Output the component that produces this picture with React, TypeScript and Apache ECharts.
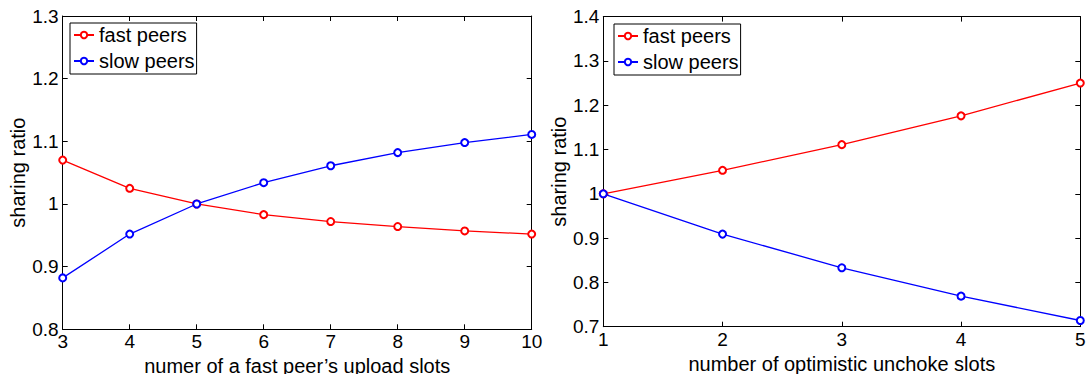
import React, { useEffect, useRef } from "react";
import * as echarts from "echarts";

const leftX = [3, 4, 5, 6, 7, 8, 9, 10];
const leftFast = [1.07, 1.025, 1.0, 0.983, 0.972, 0.964, 0.957, 0.952];
const leftSlow = [0.882, 0.952, 1.0, 1.034, 1.061, 1.082, 1.098, 1.111];

const rightX = [1, 2, 3, 4, 5];
const rightFast = [1.0, 1.053, 1.111, 1.176, 1.25];
const rightSlow = [1.0, 0.909, 0.833, 0.769, 0.714];

const seriesNames = ["fast peers", "slow peers"];
const leftXTitle = "numer of a fast peer\u2019s upload slots";
const rightXTitle = "number of optimistic unchoke slots";
const yTitle = "sharing ratio";

const FONT = "'Liberation Sans', Arial, Helvetica, sans-serif";

export default function App() {
  const ref = useRef<HTMLDivElement>(null);

  useEffect(() => {
    if (!ref.current) return;
    const chart = echarts.init(ref.current, undefined, { renderer: "svg" });

    const axisLine = { show: true, onZero: false, lineStyle: { color: "#000", width: 1 } };
    const tick = { show: true, inside: true, length: 5, lineStyle: { color: "#000", width: 1 } };
    const lbl = { color: "#000", fontSize: 19, fontFamily: FONT, margin: 3 };
    const nameStyle = { color: "#000", fontSize: 20, fontFamily: FONT };

    const mkX = (grid: number, min: number, max: number, name: string) => [
      {
        type: "value", gridIndex: grid, min, max, interval: 1, position: "bottom",
        axisLine, axisTick: tick, axisLabel: lbl, splitLine: { show: false },
        name, nameLocation: "middle", nameGap: 22,
        nameTextStyle: { ...nameStyle, lineHeight: 14 },
      },
      {
        type: "value", gridIndex: grid, min, max, interval: 1, position: "top",
        axisLine, axisTick: tick, axisLabel: { show: false }, splitLine: { show: false },
      },
    ];
    const mkY = (grid: number, min: number, max: number) => [
      {
        type: "value", gridIndex: grid, min, max, interval: 0.1, position: "left",
        axisLine, axisTick: tick, axisLabel: { ...lbl, margin: 4 }, splitLine: { show: false },
        name: yTitle, nameLocation: "middle", nameGap: 31, nameTextStyle: nameStyle,
      },
      {
        type: "value", gridIndex: grid, min, max, interval: 0.1, position: "right",
        axisLine, axisTick: tick, axisLabel: { show: false }, splitLine: { show: false },
      },
    ];

    const mkSeries = (name: string, xs: number[], ys: number[], color: string, xi: number, yi: number) => ({
      type: "line", name, xAxisIndex: xi, yAxisIndex: yi,
      data: xs.map((x, i) => [x, ys[i]]),
      symbol: "emptyCircle", symbolSize: 7,
      lineStyle: { color, width: 1.3 },
      itemStyle: { color, borderColor: color, borderWidth: 1.3 },
      emphasis: { disabled: true },
    });

    const legendBase = {
      orient: "vertical",
      data: seriesNames,
      borderColor: "#000", borderWidth: 1, borderRadius: 0,
      backgroundColor: "#fff",
      padding: [2, 2, 3, 3],
      itemGap: 6,
      itemWidth: 20, itemHeight: 8,
      textStyle: { color: "#000", fontSize: 20, fontFamily: FONT },
      selectedMode: false,
    };

    chart.setOption({
      animation: false,
      textStyle: { fontFamily: FONT },
      grid: [
        { left: 62.7, top: 16, width: 469, height: 313.3, containLabel: false, outerBoundsMode: "none" },
        { left: 603.3, top: 16.6, width: 477, height: 310.1, containLabel: false, outerBoundsMode: "none" },
      ],
      xAxis: [...mkX(0, 3, 10, leftXTitle), ...mkX(1, 1, 5, rightXTitle)],
      yAxis: [...mkY(0, 0.8, 1.3), ...mkY(1, 0.7, 1.4)],
      legend: [
        { ...legendBase, left: 70, top: 23 },
        { ...legendBase, left: 614, top: 24 },
      ],
      series: [
        mkSeries(seriesNames[0], leftX, leftFast, "#ff0000", 0, 0),
        mkSeries(seriesNames[1], leftX, leftSlow, "#0000ff", 0, 0),
        mkSeries(seriesNames[0], rightX, rightFast, "#ff0000", 2, 2),
        mkSeries(seriesNames[1], rightX, rightSlow, "#0000ff", 2, 2),
      ],
    });

    return () => chart.dispose();
  }, []);

  return (
    <div
      ref={ref}
      style={{ position: "fixed", left: 0, top: 0, width: 1089, height: 374, background: "#fff" }}
    />
  );
}
